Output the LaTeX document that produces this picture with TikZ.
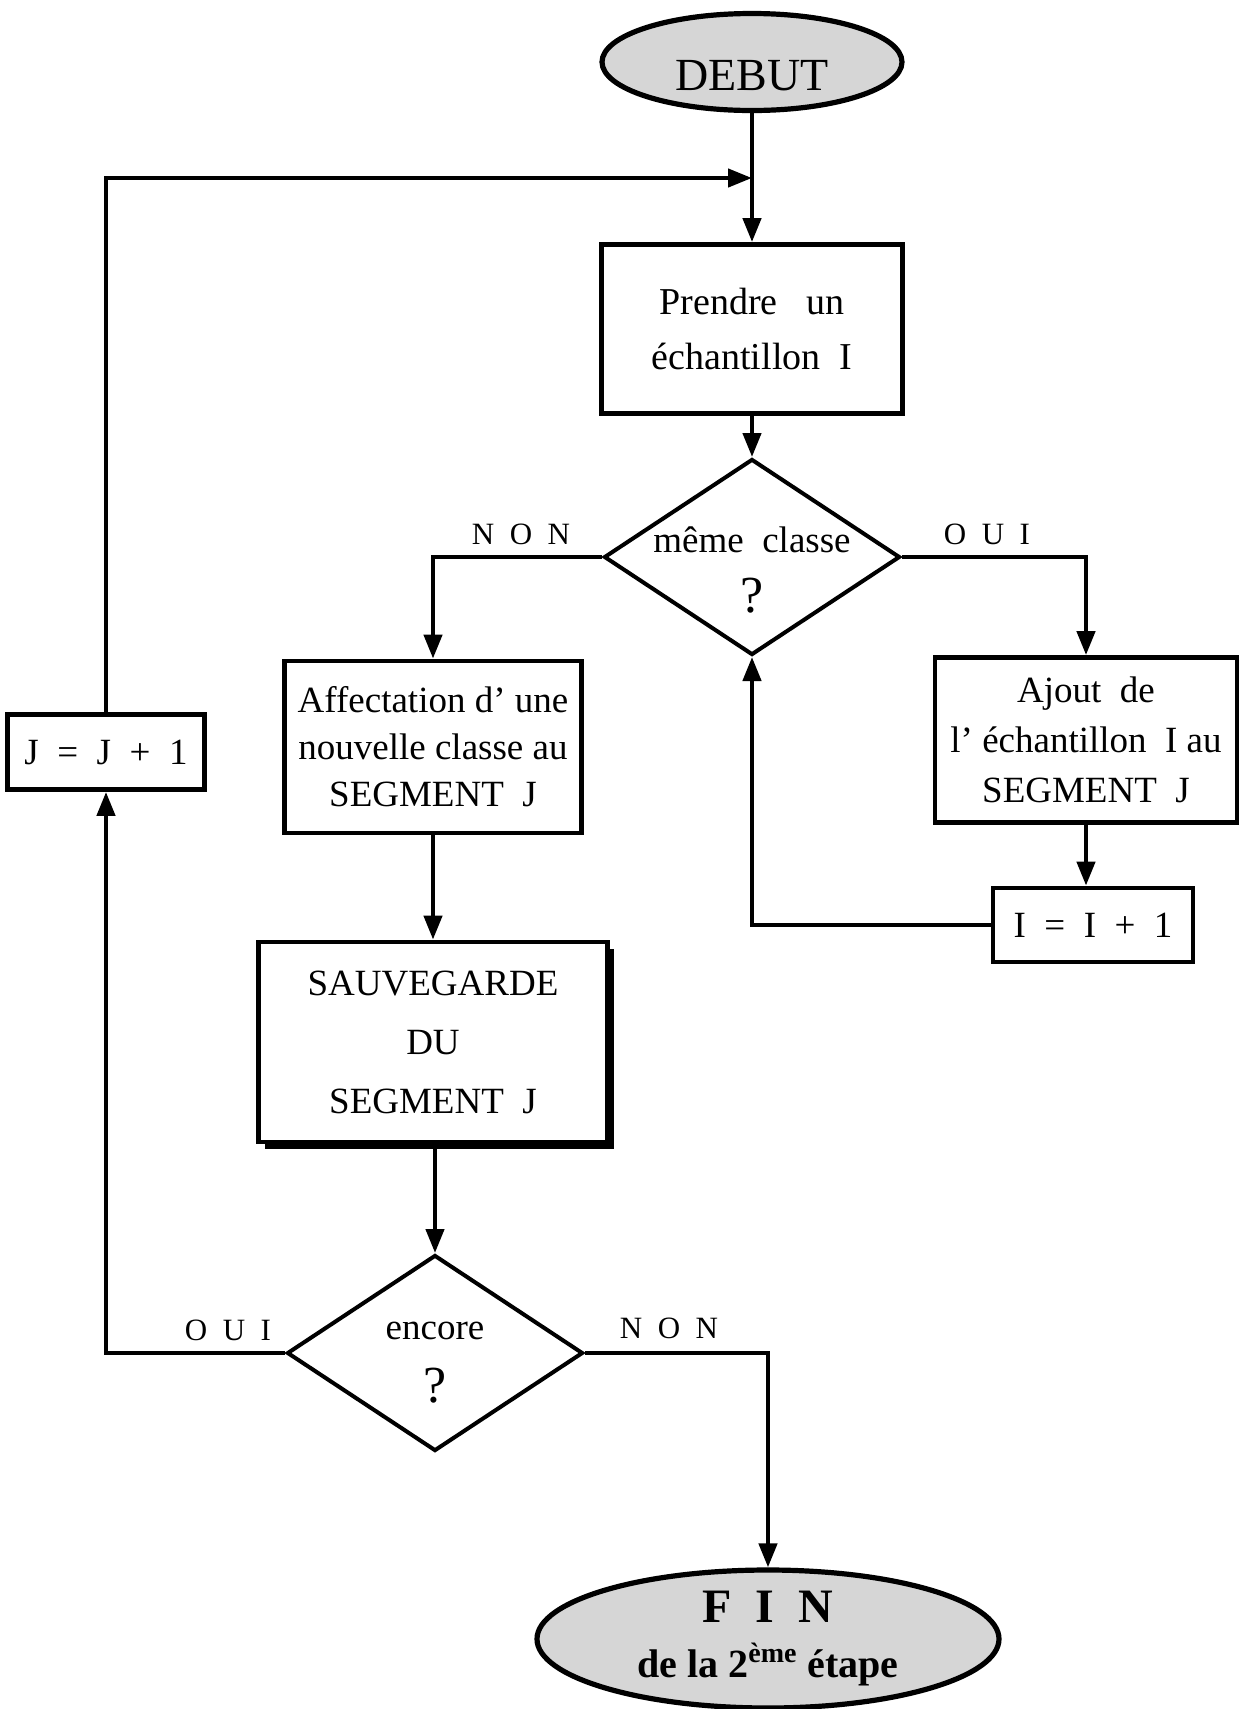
\documentclass[tikz,border=0pt]{standalone}
\usepackage{fontspec}
\setmainfont{Liberation Serif}
\usetikzlibrary{arrows.meta,shapes.geometric,shadows}

\tikzset{
	boite/.style={draw, line width=2.4pt, rectangle, align=center, inner sep=0pt, font=\fontsize{18.5}{27}\selectfont},
	losange/.style={draw, line width=2pt, diamond, inner sep=0pt, minimum width=148pt, minimum height=98pt},
	question/.style={align=center, font=\fontsize{18.5}{30}\selectfont},
	bulle/.style={draw, line width=2.6pt, ellipse, fill=black!16, inner sep=0pt, align=center},
	fleche/.style={line width=2.2pt, -{Triangle[length=12pt,width=9pt]}},
	reponse/.style={font=\fontsize{15.5}{18}\selectfont},
}

\begin{document}
\begin{tikzpicture}[x=0.5pt,y=-0.5pt]
			%%%%% START %%%%%
			\useasboundingbox (0,0) rectangle (1242,1709);
			
			\node[bulle, minimum width=150pt, minimum height=48.5pt, font=\fontsize{23}{27}\selectfont, text height=28pt, text depth=0pt] (debut) at (752,62) {DEBUT};
			
			\node[boite, minimum width=150.5pt, minimum height=84.5pt, font=\fontsize{19}{27.5}\selectfont] (prendre) at (752,329) {Prendre\ \ \ un\\échantillon\ \ I};
			
			\node[losange] (meme) at (752,557) {};
			\node[question] (memetexte) at (752,570) {même\ \ classe\\{\fontsize{26}{30}\selectfont ?}};
			
			\node[boite, minimum width=148.5pt, minimum height=86pt, font=\fontsize{18.5}{23.5}\selectfont] (affect) at (433,747) {Affectation d’ une\\nouvelle classe au\\SEGMENT\ \ J};
			\node[boite, minimum width=151pt, minimum height=82.5pt, font=\fontsize{18.5}{25}\selectfont] (ajout) at (1086,740) {Ajout\ \ de\\l’ échantillon\ \ I au\\SEGMENT\ \ J};
			
			\node[boite, minimum width=100pt, minimum height=37pt] (ibox) at (1093,925) {I\ \ =\ \ I\ \ +\ \ 1};
			\node[boite, minimum width=98.5pt, minimum height=37.5pt] (jbox) at (106,752) {J\ \ =\ \ J\ \ +\ \ 1};
			
			\node[boite, minimum width=174.5pt, minimum height=100pt, font=\fontsize{18.5}{29.5}\selectfont, fill=white, drop shadow={shadow xshift=3pt, shadow yshift=-3.5pt, fill=black, opacity=1}] (sauve) at (433,1042) {SAUVEGARDE\\DU\\SEGMENT\ \ J};
			
			\node[losange] (encore) at (435,1353) {};
			\node[question, font=\fontsize{18.5}{31.5}\selectfont] (encoretexte) at (435,1363) {encore\\{\fontsize{26}{31.5}\selectfont ?}};
			
			\node[bulle, minimum width=231pt, minimum height=69pt, font=\fontsize{20}{27.5}\selectfont\bfseries] (fin) at (768,1639) {{\fontsize{24}{27.5}\selectfont F\ \ I\ \ N}\\de\ la\ 2\textsuperscript{ème}\ étape};
			
			\node[reponse] (nonhaut) at (521,534) {N\ \ O\ \ N};
			\node[reponse] (ouihaut) at (987,534) {O\ \ U\ \ I};
			\node[reponse] (ouibas) at (228,1330) {O\ \ U\ \ I};
			\node[reponse] (nonbas) at (669,1328) {N\ \ O\ \ N};
			
			\coordinate (retour) at (752,178);
			
			% liaisons
			\draw[fleche] (debut) -- (prendre);
			\draw[fleche] (prendre) -- (meme);
			\draw[fleche] (meme.west) -| (affect.north);
			\draw[fleche] (meme.east) -| (ajout.north);
			\draw[fleche] (ajout.south) -- (ajout.south |- ibox.north);
			\draw[fleche] (ibox.west) -| (meme.south);
			\draw[fleche] (affect) -- (sauve);
			\draw[fleche] (encore.north |- sauve.south) -- (encore.north);
			\draw[fleche] (encore.west) -| (jbox.south);
			\draw[fleche] (jbox.north) |- (retour);
			\draw[fleche] (encore.east) -| (fin.north);
			
			%%%%% END %%%%%
\end{tikzpicture}
\end{document}
